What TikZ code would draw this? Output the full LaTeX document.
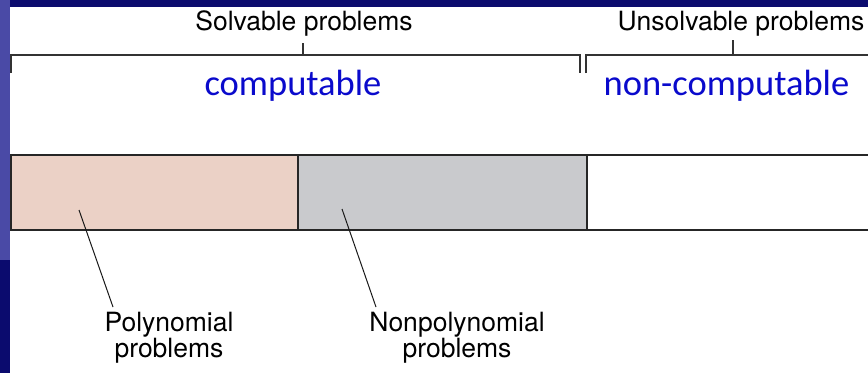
\documentclass[tikz,border=0pt]{standalone}
\usepackage{fontspec}
\setmainfont{TeX Gyre Heros}
\newfontfamily\calibrifont{Carlito}
\definecolor{slidenavy}{HTML}{0B0B6E}
\definecolor{slideviolet}{HTML}{4A4AA6}
\definecolor{polypink}{HTML}{EBD1C6}
\definecolor{npgray}{HTML}{C9CACD}
\definecolor{textblue}{HTML}{0A0ACC}
\begin{document}
\begin{tikzpicture}[x=1pt,y=-1pt]
\tikzstyle{region} = [draw=black!85, line width=1.6pt, minimum height=75pt, inner sep=0pt, outer sep=0pt];
\tikzstyle{bracket} = [draw=black!80, line width=1.2pt];
\tikzstyle{heading} = [anchor=base, inner sep=0pt, font=\fontsize{26.5}{26.5}\selectfont];
\tikzstyle{kind} = [anchor=base, inner sep=0pt, text=textblue, font=\calibrifont\fontsize{36.5}{36.5}\selectfont];
\tikzstyle{lbl} = [align=center, inner sep=0pt, font=\fontsize{26.5}{24}\selectfont];
\tikzstyle{leader} = [draw=black!90, line width=1pt];
\useasboundingbox (0,0) rectangle (868,373);
% slide background
\fill[white] (0,0) rectangle (868,373);
\fill[slidenavy] (0,0) rectangle (868,7);
\fill[slideviolet] (0,0) rectangle (10,260);
\fill[slidenavy] (0,260) rectangle (10,373);
% the bar
\node[region, fill=polypink, minimum width=287pt] (poly) at (154.5,192.5) {};
\node[region, fill=npgray, minimum width=289pt] (nonpoly) at (442.5,192.5) {};
\node[region, fill=white, minimum width=313pt] (unsolv) at (743.5,192.5) {};
% brackets
\coordinate (sleft) at (11,73);
\coordinate (sright) at (580,73);
\coordinate (stick) at (303,43);
\coordinate (uleft) at (586,73);
\coordinate (uright) at (875,55);
\coordinate (utick) at (733,40);
\draw[bracket] (sleft) |- (sright |- 0,55) -- (sright);
\draw[bracket] (stick) -- (stick |- 0,55);
\draw[bracket] (uleft) |- (uright);
\draw[bracket] (utick) -- (utick |- 0,55);
\node[heading] (solvable) at (304,30) {Solvable problems};
\node[heading] (unsolvable) at (741,30) {Unsolvable problems};
\node[kind] (comp) at (293,95) {computable};
\node[kind] (noncomp) at (726.5,95) {non-computable};
% labels
\node[lbl] (polylbl) at (169,338) {Polynomial\\problems};
\node[lbl] (nonpolylbl) at (457,338) {Nonpolynomial\\problems};
\coordinate (polypt) at (79,210);
\coordinate (polyend) at (113,307);
\coordinate (nonpolypt) at (342,209);
\coordinate (nonpolyend) at (376,307);
\draw[leader] (polypt) -- (polyend);
\draw[leader] (nonpolypt) -- (nonpolyend);
\end{tikzpicture}
\end{document}
